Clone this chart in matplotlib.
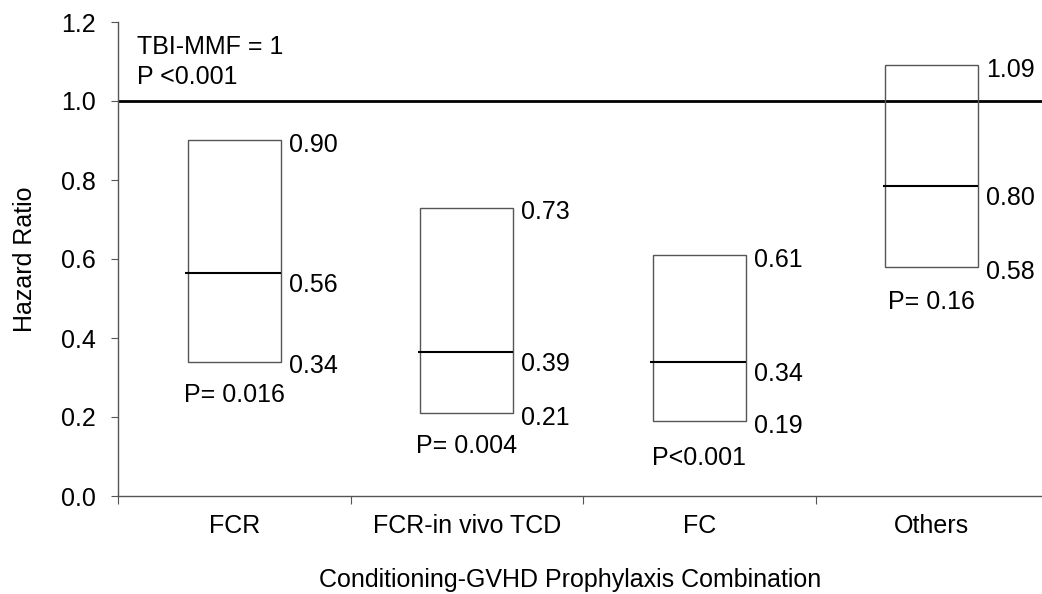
import matplotlib
matplotlib.use('Agg')
import matplotlib.pyplot as plt

groups = ['FCR', 'FCR-in vivo TCD', 'FC', 'Others']
lower = [0.34, 0.21, 0.19, 0.58]
upper = [0.90, 0.73, 0.61, 1.09]
median = [0.565, 0.365, 0.34, 0.785]
lower_txt = ['0.34', '0.21', '0.19', '0.58']
upper_txt = ['0.90', '0.73', '0.61', '1.09']
median_txt = ['0.56', '0.39', '0.34', '0.80']
p_txt = ['P= 0.016', 'P= 0.004', 'P<0.001', 'P= 0.16']
p_y = [0.256, 0.127, 0.096, 0.491]


def main():
    plt.rcParams['font.family'] = ['Liberation Sans', 'DejaVu Sans']
    fs = 18
    gray = '#555555'

    fig = plt.figure(figsize=(10.42, 5.94), dpi=100)
    ax = fig.add_axes([118 / 1042, 98 / 594, 930 / 1042, 474 / 594])

    x = [i + 1 for i in range(len(groups))]
    w = 0.4
    heights = [u - l for u, l in zip(upper, lower)]
    ax.bar(x, heights, bottom=lower, width=w, fill=False,
           edgecolor=gray, linewidth=1.0, zorder=3)
    ax.hlines(median, [xi - w / 2 - 0.01 for xi in x], [xi + w / 2 for xi in x],
              colors='black', linewidth=1.5, zorder=4)

    ax.axhline(1.0, color='black', linewidth=2, zorder=2)

    dy = -0.012
    for i, xi in enumerate(x):
        xr = xi + w / 2 + 0.035
        ax.text(xr, upper[i] + dy, upper_txt[i], fontsize=fs, va='center', ha='left')
        ax.text(xr, lower[i] + dy, lower_txt[i], fontsize=fs, va='center', ha='left')
        ax.text(xr, median[i] - 0.03, median_txt[i], fontsize=fs, va='center', ha='left')
        ax.text(xi, p_y[i], p_txt[i], fontsize=fs, va='center', ha='center')

    ax.text(0.58, 1.137, 'TBI-MMF = 1', fontsize=fs, va='center', ha='left')
    ax.text(0.58, 1.061, 'P <0.001', fontsize=fs, va='center', ha='left')

    ax.set_xlim(0.5, 4.5)
    ax.set_ylim(0, 1.2)
    ax.set_yticks([0, 0.2, 0.4, 0.6, 0.8, 1.0, 1.2])
    ax.set_yticklabels(['0.0', '0.2', '0.4', '0.6', '0.8', '1.0', '1.2'])
    ax.set_xticks([0.5, 1.5, 2.5, 3.5, 4.5])
    ax.set_xticklabels([])
    ax.set_xticks(x, minor=True)
    ax.set_xticklabels(groups, minor=True)
    ax.tick_params(axis='x', which='minor', length=0, pad=13, labelsize=fs)
    ax.tick_params(axis='x', which='major', length=6, color=gray, direction='out')
    ax.tick_params(axis='y', length=5, color=gray, labelsize=fs, pad=11)

    for s in ['top', 'right']:
        ax.spines[s].set_visible(False)
    for s in ['left', 'bottom']:
        ax.spines[s].set_color(gray)
        ax.spines[s].set_linewidth(1.0)

    ax.set_xlabel('Conditioning-GVHD Prophylaxis Combination', fontsize=fs)
    ax.set_ylabel('Hazard Ratio', fontsize=fs)
    ax.xaxis.set_label_coords(452 / 930, -0.152)
    ax.yaxis.set_label_coords(-0.087, 0.5)

    fig.savefig('out.png', dpi=100)


if __name__ == '__main__':
    main()
